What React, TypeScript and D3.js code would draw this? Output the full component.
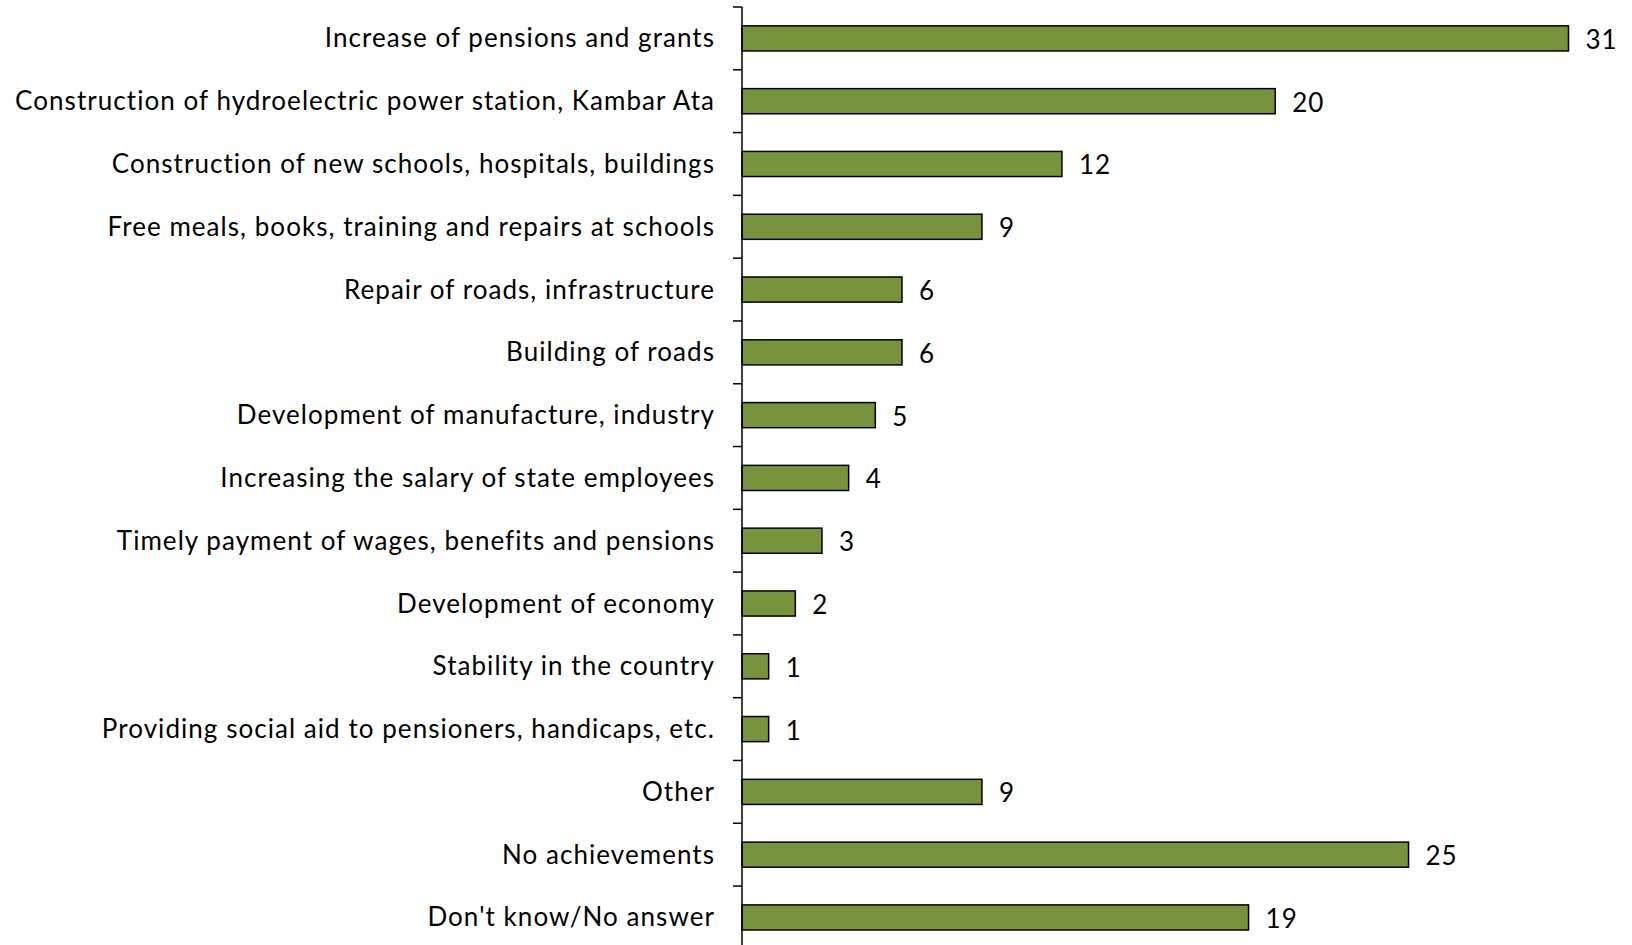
import React from "react";
import * as d3 from "d3";

const categories: string[] = [
  "Increase of pensions and grants",
  "Construction of hydroelectric power station, Kambar Ata",
  "Construction of new schools, hospitals, buildings",
  "Free meals, books, training and repairs at schools",
  "Repair of roads, infrastructure",
  "Building of roads",
  "Development of manufacture, industry",
  "Increasing the salary of state employees",
  "Timely payment of wages, benefits and pensions",
  "Development of economy",
  "Stability in the country",
  "Providing social aid to pensioners, handicaps, etc.",
  "Other",
  "No achievements",
  "Don't know/No answer",
];
const values: number[] = [31, 20, 12, 9, 6, 6, 5, 4, 3, 2, 1, 1, 9, 25, 19];

const W = 1632;
const H = 945;
const FONT = "Lato, 'Open Sans', sans-serif";

export default function App() {
  const axisX = 742;
  const top = 7;
  const step = 62.79;
  const y = d3
    .scaleBand<string>()
    .domain(categories)
    .range([top, top + step * categories.length])
    .paddingInner(0.6)
    .paddingOuter(0.3);
  const x = d3.scaleLinear().domain([0, 31]).range([axisX, 1568.5]);
  const ticks = d3.range(categories.length + 1).map((i) => top + i * step);

  return (
    <svg
      width={W}
      height={H}
      style={{ position: "absolute", left: 0, top: 0, display: "block", background: "#fff" }}
    >
      {categories.map((c, i) => {
        const yb = y(c)!;
        const cy = yb + y.bandwidth() / 2;
        return (
          <g key={c}>
            <rect
              x={x(0)}
              y={yb}
              width={x(values[i]) - x(0)}
              height={y.bandwidth()}
              fill="#77933C"
              stroke="#000"
              strokeWidth={1.5}
            />
            <text
              x={715}
              y={cy + 9}
              textAnchor="end"
              fontFamily={FONT}
              fontSize={26}
              letterSpacing={1.05}
              fill="#000"
              style={{ whiteSpace: "pre" }}
            >
              {c}
            </text>
            <text
              x={x(values[i]) + 17}
              y={cy + 10.5}
              fontFamily={FONT}
              fontSize={26}
              letterSpacing={1}
              fill="#000"
            >
              {values[i]}
            </text>
          </g>
        );
      })}
      <line x1={axisX} x2={axisX} y1={top} y2={H} stroke="#000" strokeWidth={1.5} />
      {ticks.map((t, i) => (
        <line key={i} x1={axisX - 9} x2={axisX} y1={t} y2={t} stroke="#000" strokeWidth={1.5} />
      ))}
    </svg>
  );
}
